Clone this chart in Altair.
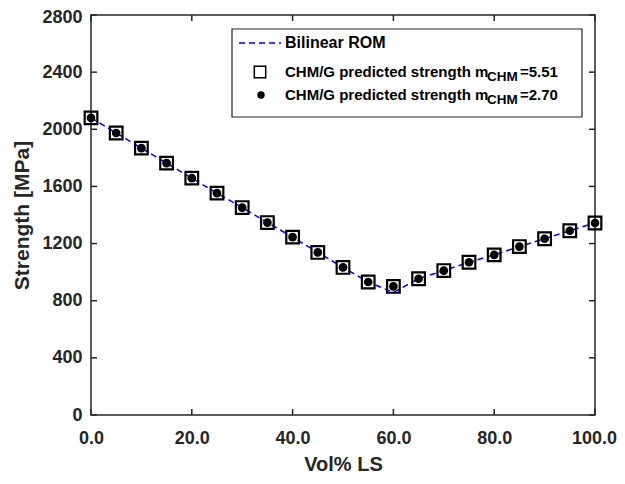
import altair as alt
import pandas as pd

# ---- data ----
vol_ls = [0, 5, 10, 15, 20, 25, 30, 35, 40, 45, 50, 55, 60, 65, 70, 75, 80, 85, 90, 95, 100]
chm_551 = [2080, 1974, 1868, 1763, 1658, 1553, 1452, 1347, 1245, 1138, 1033, 931, 900, 954, 1011, 1069, 1121, 1179, 1234, 1290, 1344]
chm_270 = [2080, 1974, 1868, 1763, 1658, 1553, 1452, 1347, 1245, 1138, 1033, 931, 900, 954, 1011, 1069, 1121, 1179, 1234, 1290, 1344]
rom_x = [0, 5, 10, 15, 20, 25, 30, 35, 40, 45, 50, 55, 60, 65, 70, 75, 80, 85, 90, 95, 100]
rom_y = [2080, 1974, 1868, 1763, 1658, 1553, 1452, 1347, 1245, 1138, 1033, 931, 858, 954, 1011, 1069, 1121, 1179, 1234, 1290, 1344]

x_ticks = [0, 20, 40, 60, 80, 100]
y_ticks = [0, 400, 800, 1200, 1600, 2000, 2400, 2800]

FONT = "Liberation Sans"
W, H = 504, 400
XMIN, XMAX, YMIN, YMAX = 0, 100, 0, 2800

xs = alt.Scale(domain=[XMIN, XMAX], nice=False, zero=False)
ys = alt.Scale(domain=[YMIN, YMAX], nice=False, zero=False)

pts = pd.DataFrame({"x": vol_ls, "a": chm_551, "b": chm_270})
rom = pd.DataFrame({"x": rom_x, "y": rom_y})

base_x = alt.X("x:Q", scale=xs, title="Vol% LS",
               axis=alt.Axis(values=x_ticks, format=".1f", ticks=False, domain=False, grid=False,
                             labelFont=FONT, labelFontWeight="bold", labelFontSize=18,
                             labelColor="#262626", labelPadding=14,
                             labelOffset=alt.condition("datum.value == 100", alt.value(-1), alt.value(0)),
                             titleFont=FONT, titleFontWeight="bold", titleFontSize=20,
                             titleColor="#262626", titlePadding=7, labelFlush=False))
base_y_axis = alt.Axis(values=y_ticks, format="d", ticks=False, domain=False, grid=False,
                       labelFont=FONT, labelFontWeight="bold", labelFontSize=18,
                       labelColor="#262626", labelPadding=9,
                       labelOffset=alt.condition("datum.value == 2800", alt.value(2), alt.value(0)),
                       titleFont=FONT, titleFontWeight="bold", titleFontSize=21,
                       titleColor="#262626", titlePadding=9)

line = alt.Chart(rom).mark_line(color="#0000ff", strokeDash=[6, 4], strokeWidth=1.5).encode(
    x=base_x,
    y=alt.Y("y:Q", scale=ys, title="Strength [MPa]", axis=base_y_axis),
)
squares = alt.Chart(pts).mark_point(shape="square", size=160, filled=False, color="black",
                                    strokeWidth=2.2, opacity=1).encode(
    x=alt.X("x:Q", scale=xs), y=alt.Y("a:Q", scale=ys))
circles = alt.Chart(pts).mark_point(shape="circle", size=75, filled=True, color="black",
                                    opacity=1).encode(
    x=alt.X("x:Q", scale=xs), y=alt.Y("b:Q", scale=ys))

# inward ticks on all four sides
tlx = 1.2   # tick length in x units
tly = 42    # tick length in y units
xt = pd.DataFrame({"x": x_ticks})
yt = pd.DataFrame({"y": y_ticks})
tick_col = "#262626"
bt = alt.Chart(xt).mark_rule(color=tick_col, strokeWidth=1.5).encode(
    x=alt.X("x:Q", scale=xs), y=alt.Y("y0:Q", scale=ys),
    y2="y1:Q").transform_calculate(y0=str(YMIN), y1=str(YMIN + tly))
tt = alt.Chart(xt).mark_rule(color=tick_col, strokeWidth=1.5).encode(
    x=alt.X("x:Q", scale=xs), y=alt.Y("y0:Q", scale=ys),
    y2="y1:Q").transform_calculate(y0=str(YMAX), y1=str(YMAX - tly))
lt = alt.Chart(yt).mark_rule(color=tick_col, strokeWidth=1.5).encode(
    y=alt.Y("y:Q", scale=ys), x=alt.X("x0:Q", scale=xs),
    x2="x1:Q").transform_calculate(x0=str(XMIN), x1=str(XMIN + tlx))
rt = alt.Chart(yt).mark_rule(color=tick_col, strokeWidth=1.5).encode(
    y=alt.Y("y:Q", scale=ys), x=alt.X("x0:Q", scale=xs),
    x2="x1:Q").transform_calculate(x0=str(XMAX), x1=str(XMAX - tlx))

# ---- manual legend (pixel positions inside plot area) ----
one = pd.DataFrame({"k": [0]})
LX0, LX1, LY0, LY1 = 141, 491, 14, 102
box = alt.Chart(one).mark_rect(fill="white", stroke="#262626", strokeWidth=1.2).encode(
    x=alt.value(LX0), x2=alt.value(LX1), y=alt.value(LY0), y2=alt.value(LY1))
leg_line = alt.Chart(one).mark_rule(color="#0000ff", strokeDash=[6, 4], strokeWidth=1.5).encode(
    x=alt.value(148), x2=alt.value(190), y=alt.value(28))
leg_sq = alt.Chart(one).mark_point(shape="square", size=130, filled=False, color="black",
                                   strokeWidth=1.5, opacity=1).encode(
    x=alt.value(169), y=alt.value(57))
leg_ci = alt.Chart(one).mark_point(shape="circle", size=55, filled=True, color="black",
                                   opacity=1).encode(
    x=alt.value(170), y=alt.value(80))

def txt(s, x, y, size=15):
    return alt.Chart(pd.DataFrame({"t": [s]})).mark_text(
        align="left", baseline="middle", font=FONT, fontWeight="bold", fontSize=size,
        color="black").encode(text="t:N", x=alt.value(x), y=alt.value(y))

legend = [box, leg_line, leg_sq, leg_ci,
          txt("Bilinear ROM", 194, 28, 16),
          txt("CHM/G predicted strength m", 194, 57),
          txt("CHM", 396, 62, 13.5),
          txt("=5.51", 429, 57),
          txt("CHM/G predicted strength m", 194, 80),
          txt("CHM", 396, 85, 13.5),
          txt("=2.70", 429, 80)]

chart = alt.layer(line, squares, circles, bt, tt, lt, rt, *legend).properties(
    width=W, height=H,
    autosize=alt.AutoSizeParams(type="none"),
    padding={"left": 83, "top": 7, "right": 22, "bottom": 61},
    background="white",
).configure_view(stroke="#262626", strokeWidth=1.5)

chart.save("out.html", embed_options={"renderer": "svg", "actions": False})
